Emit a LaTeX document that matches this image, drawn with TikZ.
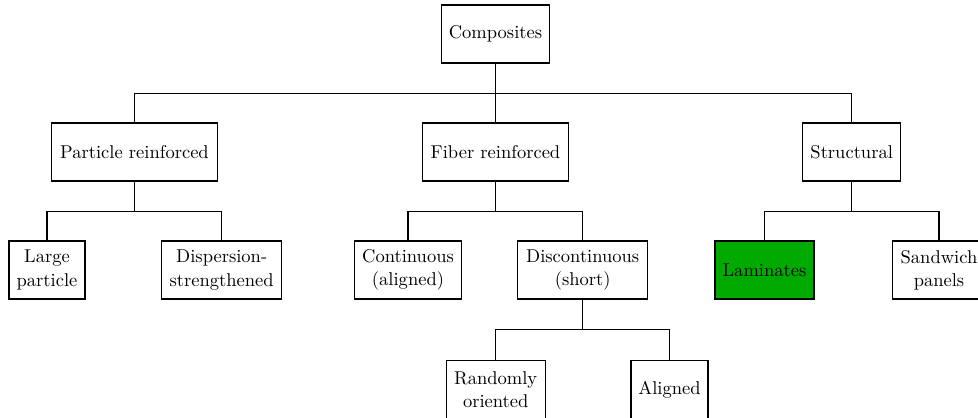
\documentclass[tikz,border=0pt]{standalone}
\usetikzlibrary{positioning}
\definecolor{lamgreen}{RGB}{0,170,0}
\begin{document}
\begin{tikzpicture}[x=0.54pt,y=-0.54pt,
  box/.style={draw,line width=0.6pt,align=center,minimum height=31.3pt,inner sep=2pt,font=\fontsize{10}{12.5}\selectfont},
  link/.style={line width=0.6pt}]
\useasboundingbox (0,0) rectangle (978,417);
\node[box,minimum width=58.3pt] (comp) at (495.5,34) {Composites};
\node[box,minimum width=89.6pt] (part) at (134.5,152) {Particle reinforced};
\node[box,minimum width=78.8pt] (fib) at (495.5,152) {Fiber reinforced};
\node[box,minimum width=52.9pt] (str) at (851.7,152) {Structural};
\node[box,minimum width=41pt] (large) at (47,270) {Large\\particle};
\node[box,minimum width=64.8pt] (disp) at (221.7,270) {Dispersion-\\strengthened};
\node[box,minimum width=57.8pt] (cont) at (408,270) {Continuous\\(aligned)};
\node[box,minimum width=70.2pt] (disc) at (582.7,270) {Discontinuous\\(short)};
\node[box,minimum width=53.5pt,fill=lamgreen] (lam) at (764.5,270) {Laminates};
\node[box,minimum width=50.5pt] (sand) at (939,270) {Sandwich\\panels};
\node[box,minimum width=53.5pt] (rand) at (495.7,389.5) {Randomly\\oriented};
\node[box,minimum width=41.6pt] (alig) at (669.5,389.5) {Aligned};
\foreach \p/\c in {comp/part,comp/fib,comp/str,part/large,part/disp,fib/cont,fib/disc,str/lam,str/sand,disc/rand,disc/alig}
  \draw[link] (\p.south) -- ++(0,30) -| (\c.north);
\end{tikzpicture}
\end{document}
